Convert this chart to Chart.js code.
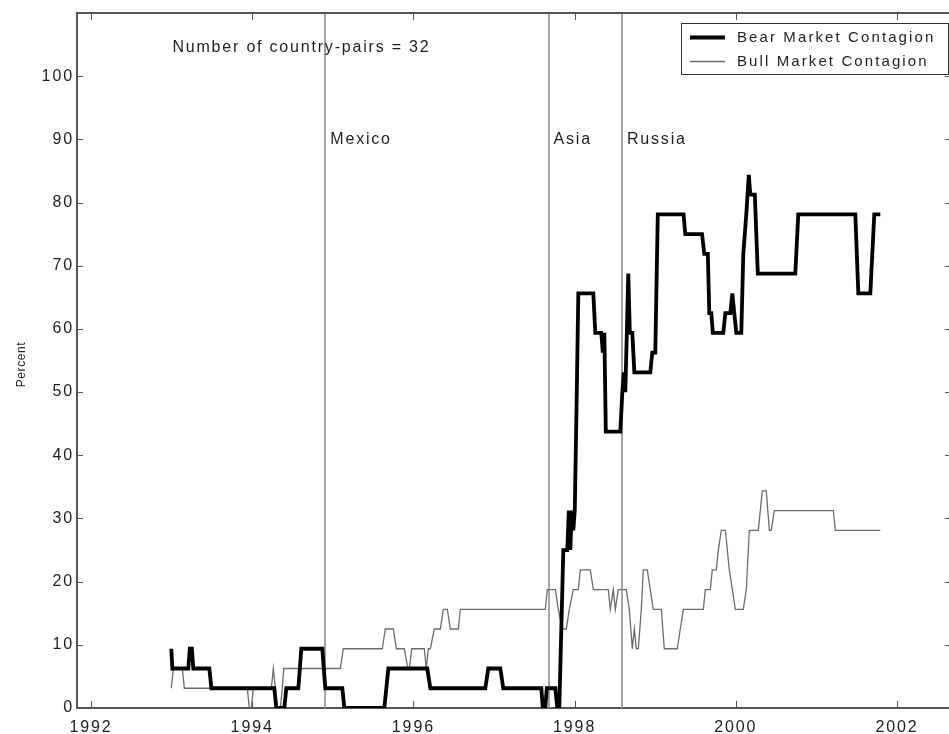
<!DOCTYPE html>
<html>
<head>
<meta charset="utf-8">
<script src="https://cdn.jsdelivr.net/npm/chart.js@4/dist/chart.umd.min.js"></script>
<style>
  html, body { margin: 0; padding: 0; background: #ffffff; overflow: hidden; }
  #wrap { width: 960px; height: 734px; }
</style>
</head>
<body>
<div id="wrap"><canvas id="c" width="960" height="734"></canvas></div>
<script>
// Axis ticks
const xTicks = [1992, 1994, 1996, 1998, 2000, 2002];
const yTicks = [0, 10, 20, 30, 40, 50, 60, 70, 80, 90, 100];

// Share of country-pairs (out of 32) showing contagion, weekly steps
const bearYears = [
  1992.996, 1993.009, 1993.207, 1993.226, 1993.251, 1993.269, 1993.468, 1993.493,
  1994.274, 1994.299, 1994.398, 1994.423, 1994.572, 1994.591, 1994.609, 1994.870,
  1994.888, 1994.907, 1995.118, 1995.143, 1995.639, 1995.664, 1995.689, 1996.172,
  1996.210, 1996.892, 1996.929, 1997.078, 1997.115, 1997.587, 1997.605, 1997.636,
  1997.655, 1997.761, 1997.785, 1997.810, 1997.835, 1997.860, 1997.909, 1997.928,
  1997.947, 1997.965, 1997.984, 1998.002, 1998.027, 1998.046, 1998.232, 1998.257,
  1998.331, 1998.350, 1998.369, 1998.387, 1998.567, 1998.592, 1998.610, 1998.629,
  1998.648, 1998.666, 1998.685, 1998.716, 1998.741, 1998.939, 1998.964, 1999.001,
  1999.032, 1999.352, 1999.373, 1999.581, 1999.609, 1999.653, 1999.671, 1999.696,
  1999.715, 1999.845, 1999.870, 1999.932, 1999.957, 1999.981, 2000.006, 2000.068,
  2000.093, 2000.130, 2000.161, 2000.180, 2000.236, 2000.273, 2000.738, 2000.775,
  2001.483, 2001.520, 2001.669, 2001.718, 2001.793
];
const bearValues = [
  9.375, 6.25, 6.25, 9.375, 9.375, 6.25, 6.25, 3.125,
  3.125, 0, 0, 3.125, 3.125, 6.25, 9.375, 9.375,
  6.25, 3.125, 3.125, 0, 0, 3.125, 6.25, 6.25,
  3.125, 3.125, 6.25, 6.25, 3.125, 3.125, 0, 0,
  3.125, 3.125, 0, 0, 12.5, 25, 25, 31.25,
  25, 31.25, 28.125, 31.25, 50, 65.625, 65.625, 59.375,
  59.375, 56.25, 59.375, 43.75, 43.75, 50, 53.125, 50,
  59.375, 68.75, 59.375, 59.375, 53.125, 53.125, 56.25, 56.25,
  78.125, 78.125, 75, 75, 71.875, 71.875, 62.5, 62.5,
  59.375, 59.375, 62.5, 62.5, 65.625, 62.5, 59.375, 59.375,
  71.875, 78.125, 84.375, 81.25, 81.25, 68.75, 68.75, 78.125,
  78.125, 65.625, 65.625, 78.125, 78.125
];

const bullYears = [
  1992.996, 1993.021, 1993.133, 1993.158, 1993.939, 1993.964, 1993.989, 1994.014,
  1994.237, 1994.262, 1994.287, 1994.311, 1994.349, 1994.373, 1994.392, 1995.093,
  1995.130, 1995.614, 1995.651, 1995.751, 1995.788, 1995.887, 1995.931, 1995.949,
  1995.980, 1996.135, 1996.160, 1996.185, 1996.210, 1996.259, 1996.334, 1996.371,
  1996.421, 1996.458, 1996.557, 1996.582, 1997.636, 1997.661, 1997.761, 1997.798,
  1997.847, 1997.897, 1997.934, 1997.984, 1998.046, 1998.071, 1998.195, 1998.232,
  1998.418, 1998.443, 1998.480, 1998.505, 1998.542, 1998.641, 1998.679, 1998.716,
  1998.741, 1998.766, 1998.790, 1998.828, 1998.852, 1998.902, 1998.939, 1998.976,
  1999.076, 1999.113, 1999.274, 1999.311, 1999.349, 1999.597, 1999.622, 1999.684,
  1999.708, 1999.758, 1999.783, 1999.820, 1999.870, 1999.895, 1999.919, 1999.957,
  1999.994, 2000.093, 2000.130, 2000.168, 2000.279, 2000.329, 2000.378, 2000.416,
  2000.440, 2000.478, 2001.210, 2001.235, 2001.793
];
const bullValues = [
  3.125, 6.25, 6.25, 3.125, 3.125, 0, 0, 3.125,
  3.125, 6.25, 3.125, 0, 0, 3.125, 6.25, 6.25,
  9.375, 9.375, 12.5, 12.5, 9.375, 9.375, 6.25, 6.25,
  9.375, 9.375, 6.25, 9.375, 9.375, 12.5, 12.5, 15.625,
  15.625, 12.5, 12.5, 15.625, 15.625, 18.75, 18.75, 15.625,
  12.5, 12.5, 15.625, 18.75, 18.75, 21.875, 21.875, 18.75,
  18.75, 15.625, 18.75, 15.625, 18.75, 18.75, 15.625, 9.375,
  12.5, 9.375, 9.375, 15.625, 21.875, 21.875, 18.75, 15.625,
  15.625, 9.375, 9.375, 12.5, 15.625, 15.625, 18.75, 18.75,
  21.875, 21.875, 25, 28.125, 28.125, 25, 21.875, 18.75,
  15.625, 15.625, 18.75, 28.125, 28.125, 34.375, 34.375, 28.125,
  28.125, 31.25, 31.25, 28.125, 28.125
];

// Crisis dates and their labels
const eventYears = [1994.907, 1997.677, 1998.588];
const eventNames = ['Mexico', 'Asia', 'Russia'];
const eventLabelLevel = 90;

const seriesNames = ['Bear Market Contagion', 'Bull Market Contagion'];
const noteText = 'Number of country-pairs = 32';
const notePos = [1993.01, 104.6];
const yTitle = 'Percent';

const FONT = "'Liberation Sans', Arial, Helvetica, sans-serif";
const AXIS_COLOR = '#555555';
const TEXT_COLOR = '#1e1e1e';

function pts(xs, ys) { return xs.map((x, i) => ({ x: x, y: ys[i] })); }

const matlabFrame = {
  id: 'matlabFrame',
  beforeDraw(chart) {
    // wide letter spacing for the axis tick labels
    chart.ctx.letterSpacing = '1.9px';
  },
  beforeDatasetsDraw(chart) {
    const { ctx, chartArea: a, scales: { x } } = chart;
    ctx.save();
    ctx.letterSpacing = '0px';
    ctx.strokeStyle = '#a4a4a4';
    ctx.lineWidth = 2;
    eventYears.forEach(v => {
      const px = Math.round(x.getPixelForValue(v));
      ctx.beginPath();
      ctx.moveTo(px, a.top);
      ctx.lineTo(px, a.bottom);
      ctx.stroke();
    });
    ctx.restore();
  },
  afterDatasetsDraw(chart) {
    const { ctx, chartArea: a, scales: { x, y } } = chart;
    ctx.save();
    // top and right edges of the box
    ctx.strokeStyle = AXIS_COLOR;
    ctx.lineWidth = 2;
    ctx.beginPath();
    ctx.moveTo(a.left, a.top);
    ctx.lineTo(a.right, a.top);
    ctx.lineTo(a.right, a.bottom);
    ctx.stroke();

    // inward tick marks on all four sides
    ctx.lineWidth = 1;
    ctx.beginPath();
    xTicks.forEach(v => {
      const px = Math.round(x.getPixelForValue(v)) + 0.5;
      ctx.moveTo(px, a.bottom); ctx.lineTo(px, a.bottom - 7);
      ctx.moveTo(px, a.top); ctx.lineTo(px, a.top + 7);
    });
    yTicks.forEach(v => {
      const py = Math.round(y.getPixelForValue(v)) + 0.5;
      ctx.moveTo(a.left, py); ctx.lineTo(a.left + 6, py);
      ctx.moveTo(a.right, py); ctx.lineTo(a.right - 6, py);
    });
    ctx.stroke();

    // crisis labels and the sample note
    ctx.fillStyle = TEXT_COLOR;
    ctx.font = '16px ' + FONT;
    ctx.letterSpacing = '1.8px';
    ctx.textAlign = 'left';
    ctx.textBaseline = 'middle';
    eventYears.forEach((v, i) => {
      ctx.fillText(eventNames[i], x.getPixelForValue(v) + 5, y.getPixelForValue(eventLabelLevel));
    });
    ctx.fillText(noteText, x.getPixelForValue(notePos[0]), y.getPixelForValue(notePos[1]));

    // y axis title
    ctx.save();
    ctx.font = '12px ' + FONT;
    ctx.letterSpacing = '0.6px';
    ctx.textAlign = 'center';
    ctx.translate(22, (a.top + a.bottom) / 2 + 4);
    ctx.rotate(-Math.PI / 2);
    ctx.fillText(yTitle, 0, 0);
    ctx.restore();

    // legend
    const bw = 267, bh = 51;
    const bx = a.right - 3 - bw, by = a.top + 10;
    ctx.fillStyle = '#ffffff';
    ctx.fillRect(bx, by, bw, bh);
    ctx.strokeStyle = '#333333';
    ctx.lineWidth = 1;
    ctx.strokeRect(bx + 0.5, by + 0.5, bw, bh);
    const rows = [by + 14.5, by + 38.5];
    chart.data.datasets.forEach((ds, i) => {
      ctx.strokeStyle = ds.borderColor;
      ctx.lineWidth = ds.borderWidth;
      ctx.beginPath();
      ctx.moveTo(bx + 9, rows[i]);
      ctx.lineTo(bx + 44, rows[i]);
      ctx.stroke();
      ctx.fillStyle = TEXT_COLOR;
      ctx.font = '15px ' + FONT;
      ctx.letterSpacing = '2.1px';
      ctx.textAlign = 'left';
      ctx.textBaseline = 'middle';
      ctx.fillText(ds.label, bx + 56, rows[i] + 0.5);
    });
    ctx.restore();
  }
};

new Chart(document.getElementById('c'), {
  type: 'line',
  data: {
    datasets: [
      {
        label: seriesNames[0],
        data: pts(bearYears, bearValues),
        borderColor: '#000000',
        borderWidth: 3.8,
        pointRadius: 0,
        tension: 0,
        fill: false
      },
      {
        label: seriesNames[1],
        data: pts(bullYears, bullValues),
        borderColor: '#6c6c6c',
        borderWidth: 1.3,
        pointRadius: 0,
        tension: 0,
        fill: false
      }
    ]
  },
  options: {
    responsive: false,
    animation: false,
    events: [],
    layout: { padding: { left: 0, right: 9, top: 13, bottom: 0 } },
    plugins: { legend: { display: false }, tooltip: { enabled: false } },
    scales: {
      x: {
        type: 'linear',
        min: 1991.826,
        max: 2002.67,
        afterBuildTicks: s => { s.ticks = xTicks.map(v => ({ value: v })); },
        afterFit: s => { s.height = 26; },
        grid: { display: false, drawTicks: false },
        border: { display: true, color: AXIS_COLOR, width: 2 },
        ticks: {
          padding: 10,
          maxRotation: 0,
          autoSkip: false,
          color: TEXT_COLOR,
          font: { family: FONT, size: 16 },
          callback: v => String(v)
        }
      },
      y: {
        type: 'linear',
        min: 0,
        max: 110,
        afterBuildTicks: s => { s.ticks = yTicks.map(v => ({ value: v })); },
        afterFit: s => { s.width = 77; },
        grid: { display: false, drawTicks: false },
        border: { display: true, color: AXIS_COLOR, width: 2 },
        ticks: {
          padding: 3,
          autoSkip: false,
          color: TEXT_COLOR,
          font: { family: FONT, size: 16 },
          callback: v => String(v)
        }
      }
    }
  },
  plugins: [matlabFrame]
});
</script>
</body>
</html>
